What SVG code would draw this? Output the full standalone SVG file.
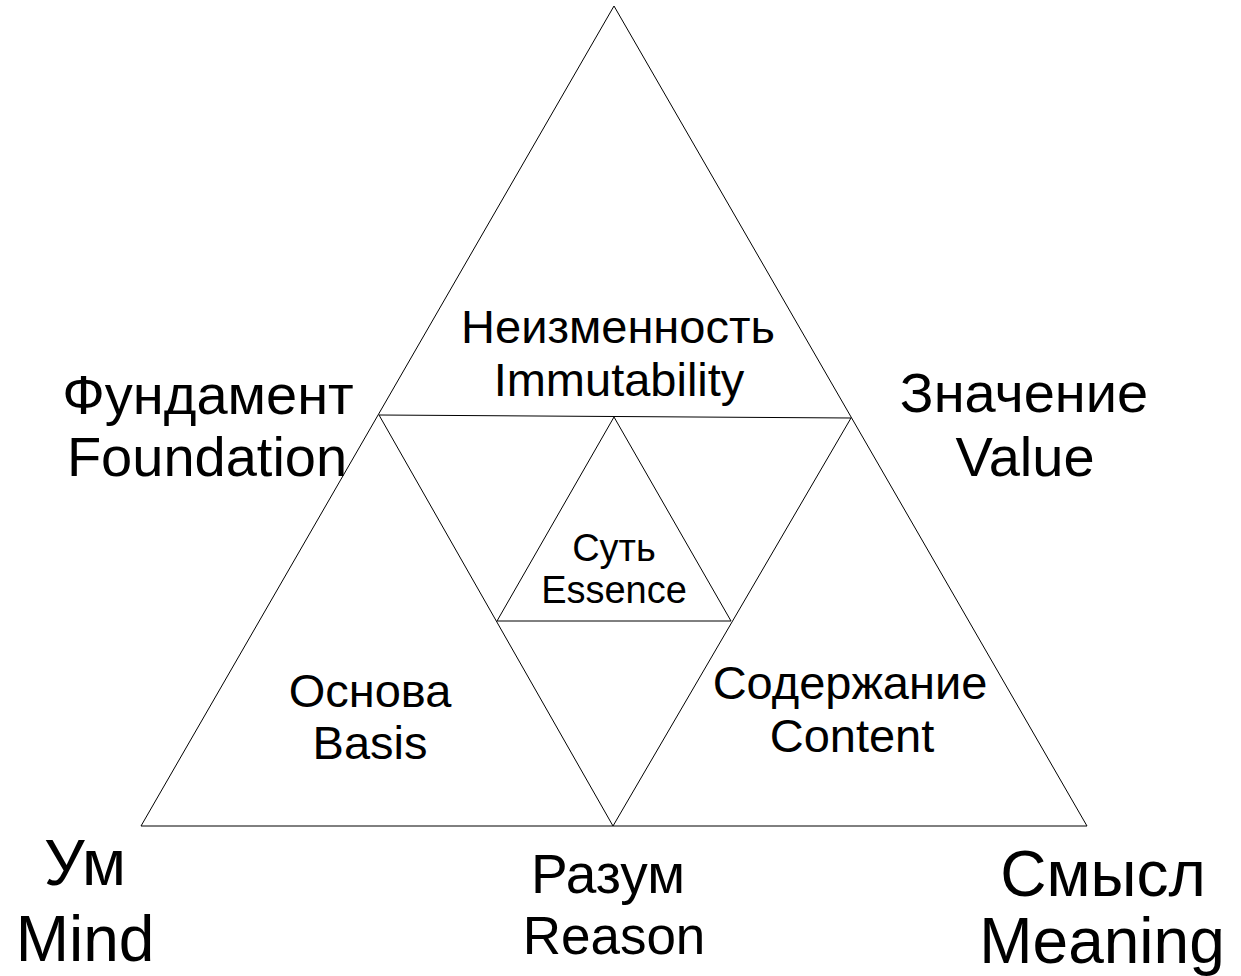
<svg xmlns="http://www.w3.org/2000/svg" width="1241" height="976" viewBox="0 0 1241 976">
<style>
.ln{stroke:#000;stroke-width:1;fill:none}
text{font-family:"Liberation Sans",Arial,sans-serif;fill:#000;text-anchor:middle}
.s{font-size:38px}
.m{font-size:47px}
.l{font-size:56px}
.r{font-size:53px}
.r2{font-size:55px}
.x{font-size:64px}
</style>
<rect width="1241" height="976" fill="#fff"/>
<g id="connectors">
<polygon class="ln" points="614,6 141,826 1087,826"/>
<line class="ln" x1="379" y1="415" x2="851" y2="418"/>
<line class="ln" x1="379" y1="415" x2="613" y2="826"/>
<line class="ln" x1="851" y1="418" x2="613" y2="826"/>
<polygon class="ln" points="614,417 497,621 731,621"/>
</g>
<g id="immutability"><text class="m" x="618" y="343">Неизменность</text><text class="m" x="619" y="396">Immutability</text></g>
<g id="foundation"><text class="l" x="208" y="414">Фундамент</text><text class="l" x="207" y="476">Foundation</text></g>
<g id="value"><text class="l" x="1024" y="412">Значение</text><text class="l" x="1025" y="476">Value</text></g>
<g id="mind"><text class="x" x="85" y="885">Ум</text><text class="x" x="85" y="961">Mind</text></g>
<g id="reason"><text class="r2" x="608" y="893">Разум</text><text class="r" x="614" y="954">Reason</text></g>
<g id="meaning"><text class="x" x="1103" y="896">Смысл</text><text class="x" x="1102" y="963">Meaning</text></g>
<g id="basis"><text class="m" x="370" y="707">Основа</text><text class="m" x="370" y="759">Basis</text></g>
<g id="content"><text class="m" x="850" y="699">Содержание</text><text class="m" x="852" y="752">Content</text></g>
<g id="essence"><text class="s" x="614" y="561">Суть</text><text class="s" x="614" y="603">Essence</text></g>
</svg>
